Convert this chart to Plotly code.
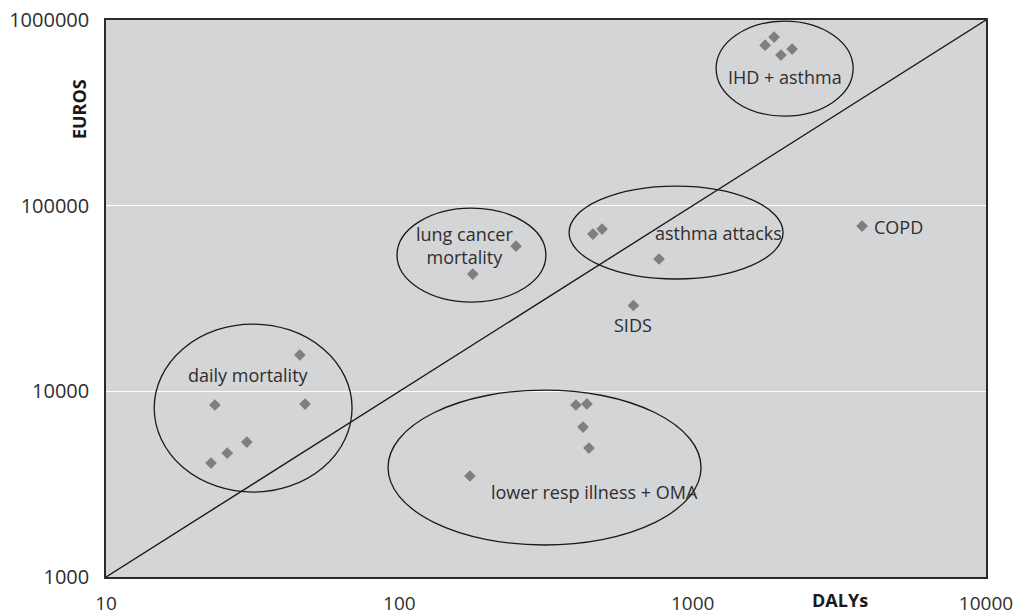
import numpy as np
import plotly.graph_objects as go

# ---- data (DALYs, EUROS) ----
daly_mort_x = [45.8, 23.5, 47.7, 30.2, 25.9, 22.8]
daly_mort_y = [15700, 8440, 8540, 5330, 4650, 4110]
lung_x = [250, 178]
lung_y = [60500, 42800]
asthma_x = [457, 491, 768]
asthma_y = [70300, 74800, 51600]
sids_x = [628]
sids_y = [29000]
copd_x = [3780]
copd_y = [77600]
ihd_x = [1766, 1895, 2000, 2183]
ihd_y = [732000, 809000, 647000, 697000]
lri_x = [174, 400, 436, 423, 443]
lri_y = [3500, 8440, 8550, 6420, 4950]

all_x = daly_mort_x + lung_x + asthma_x + sids_x + copd_x + ihd_x + lri_x
all_y = daly_mort_y + lung_y + asthma_y + sids_y + copd_y + ihd_y + lri_y

# equality line
diag_x = [10, 10000]
diag_y = [1000, 1000000]

x_ticks = [10, 100, 1000, 10000]
x_tick_labels = ["10", "100", "1000", "10000"]
y_ticks = [1000, 10000, 100000, 1000000]
y_tick_labels = ["1000", "10000", "100000", "1000000"]

# group ellipses (x0, x1, y0, y1) in data units
groups = {
    "IHD + asthma": (1202, 3524, 303800, 986000),
    "lung cancer": (98.2, 316, 30270, 97000),
    "asthma attacks": (379, 2033, 40270, 127500),
    "daily mortality": (14.6, 69.0, 2868, 23030),
    "lower resp": (91.5, 1068, 1487, 10160),
}

# labels: (text, x, y, anchor)
labels = [
    ("IHD + asthma", 2065, 492000, "center"),
    ("lung cancer<br>mortality", 167, 61000, "center"),
    ("asthma attacks", 1220, 71500, "center"),
    ("SIDS", 627, 22750, "center"),
    ("COPD", 4100, 76700, "left"),
    ("daily mortality", 30.6, 12250, "center"),
    ("lower resp illness + OMA", 461, 2880, "center"),
]

FONT = "Open Sans"
BG = "#d4d5d7"
TXT = "#2e2e2e"

fig = go.Figure()

fig.add_trace(go.Scatter(
    x=diag_x, y=diag_y, mode="lines",
    line=dict(color="#1a1a1a", width=1.4), hoverinfo="skip", showlegend=False))

fig.add_trace(go.Scatter(
    x=all_x, y=all_y, mode="markers",
    marker=dict(symbol="diamond", size=9, color="#7f7f7f"),
    showlegend=False))

for name, (x0, x1, y0, y1) in groups.items():
    fig.add_shape(type="circle", xref="x", yref="y",
                  x0=x0, x1=x1, y0=y0, y1=y1,
                  line=dict(color="#1a1a1a", width=1.3), layer="above")

for text, lx, ly, anchor in labels:
    fig.add_annotation(x=np.log10(lx), y=np.log10(ly), text=text, showarrow=False,
                       xanchor=anchor, yanchor="middle",
                       font=dict(family=FONT, size=18, color=TXT))

# axis titles
fig.add_annotation(xref="paper", yref="paper", x=-0.0307, y=0.840, text="<b>EUROS</b>",
                   textangle=-90, showarrow=False, xanchor="center", yanchor="middle",
                   font=dict(family=FONT, size=18, color="#1a1a1a"))
fig.add_annotation(xref="paper", yref="paper", x=0.834, y=-0.042, text="<b>DALYs</b>",
                   showarrow=False, xanchor="center", yanchor="middle",
                   font=dict(family=FONT, size=18, color="#1a1a1a"))

fig.update_layout(
    width=1021, height=616,
    margin=dict(l=106, r=35, t=20, b=39, autoexpand=False),
    paper_bgcolor="white", plot_bgcolor=BG,
    font=dict(family=FONT, size=19, color=TXT),
    hovermode=False,
)
fig.update_xaxes(type="log", range=[1, 4], tickvals=x_ticks, ticktext=x_tick_labels,
                 showgrid=False, zeroline=False, showline=True, linecolor="#2a2a2a",
                 linewidth=1.5, mirror=True, ticks="", ticklabelstandoff=8,
                 automargin=False,
                 tickfont=dict(family=FONT, size=19, color=TXT))
fig.update_yaxes(type="log", range=[3, 6], tickvals=y_ticks, ticktext=y_tick_labels,
                 showgrid=True, gridcolor="white", gridwidth=1.2, zeroline=False,
                 showline=True, linecolor="#2a2a2a", linewidth=1.5, mirror=True,
                 ticks="", ticklabelstandoff=11, automargin=False,
                 tickfont=dict(family=FONT, size=20, color=TXT))

fig.write_html("out.html", config={"displayModeBar": False},
               post_script="document.body.style.margin='0px';document.body.style.overflow='hidden';")
